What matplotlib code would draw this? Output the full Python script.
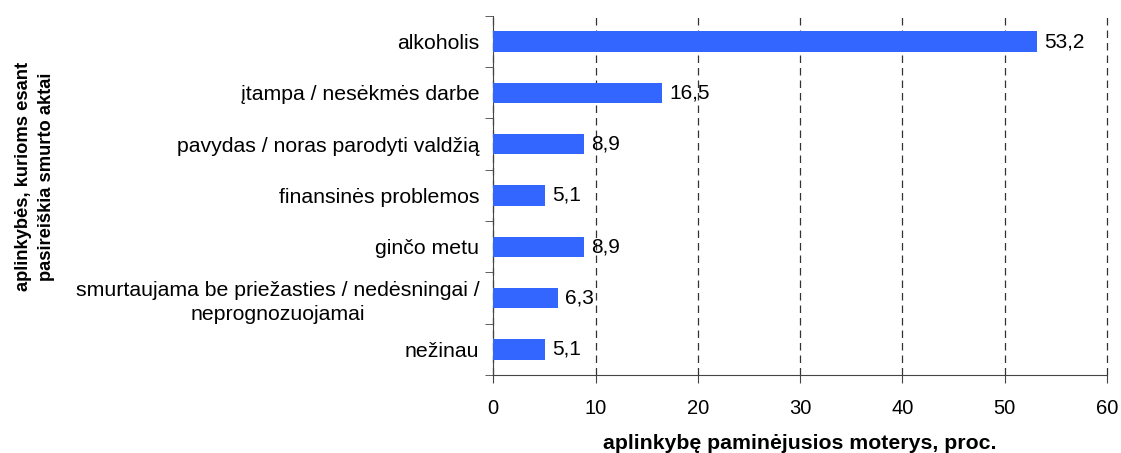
import matplotlib.pyplot as plt
import numpy as np
from matplotlib.ticker import FixedLocator

plt.rcParams['font.family'] = ['Liberation Sans', 'DejaVu Sans']

categories = [
    "alkoholis",
    "įtampa / nesėkmės darbe",
    "pavydas / noras parodyti valdžią",
    "finansinės problemos",
    "ginčo metu",
    "smurtaujama be priežasties / nedėsningai /\nneprognozuojamai",
    "nežinau",
]
values = [53.2, 16.5, 8.9, 5.1, 8.9, 6.3, 5.1]
labels = ["53,2", "16,5", "8,9", "5,1", "8,9", "6,3", "5,1"]

fig = plt.figure(figsize=(11.21, 4.53), dpi=100)
ax = fig.add_axes([0.44, 0.172, 0.5475, 0.793])

y = np.arange(len(categories))
ax.barh(y, values, height=0.4, color='#3366FF', zorder=3)
ax.set_ylim(len(categories) - 0.5, -0.5)
ax.set_xlim(0, 60)

for yi, v, lab in zip(y, values, labels):
    ax.text(v + 0.7, yi, lab, va='center', ha='left', fontsize=15, zorder=4)

ax.set_yticks(y)
ax.set_yticklabels(categories, fontsize=15.3)
for t in ax.get_yticklabels():
    t.set_horizontalalignment('right')
    t.set_multialignment('center')
    t.set_linespacing(1.3)
ax.tick_params(axis='y', which='major', length=0, pad=10)
ax.yaxis.set_minor_locator(FixedLocator(np.arange(-0.5, len(categories), 1)))
ax.tick_params(axis='y', which='minor', length=6, direction='out', color='#444444')

ax.set_xticks(np.arange(0, 61, 10))
ax.tick_params(axis='x', labelsize=14.5, length=6, direction='out', pad=11, color='#444444')

ax.grid(axis='x', linestyle=(0, (6, 4)), color='#333333', linewidth=0.9, zorder=0)
for gl in ax.get_xgridlines():
    gl.set_clip_on(False)
for s in ['top', 'right']:
    ax.spines[s].set_visible(False)
ax.spines['left'].set_color('#444444')
ax.spines['bottom'].set_color('#444444')

ax.set_xlabel("aplinkybę paminėjusios moterys, proc.", fontsize=15.3, fontweight='bold', labelpad=12)
fig.text(0.031, 0.61, "aplinkybės, kurioms esant\npasireiškia smurto aktai", rotation=90,
         fontsize=13.2, fontweight='bold', ha='center', va='center', multialignment='center',
         linespacing=1.5)

plt.savefig("out.png", dpi=100)
